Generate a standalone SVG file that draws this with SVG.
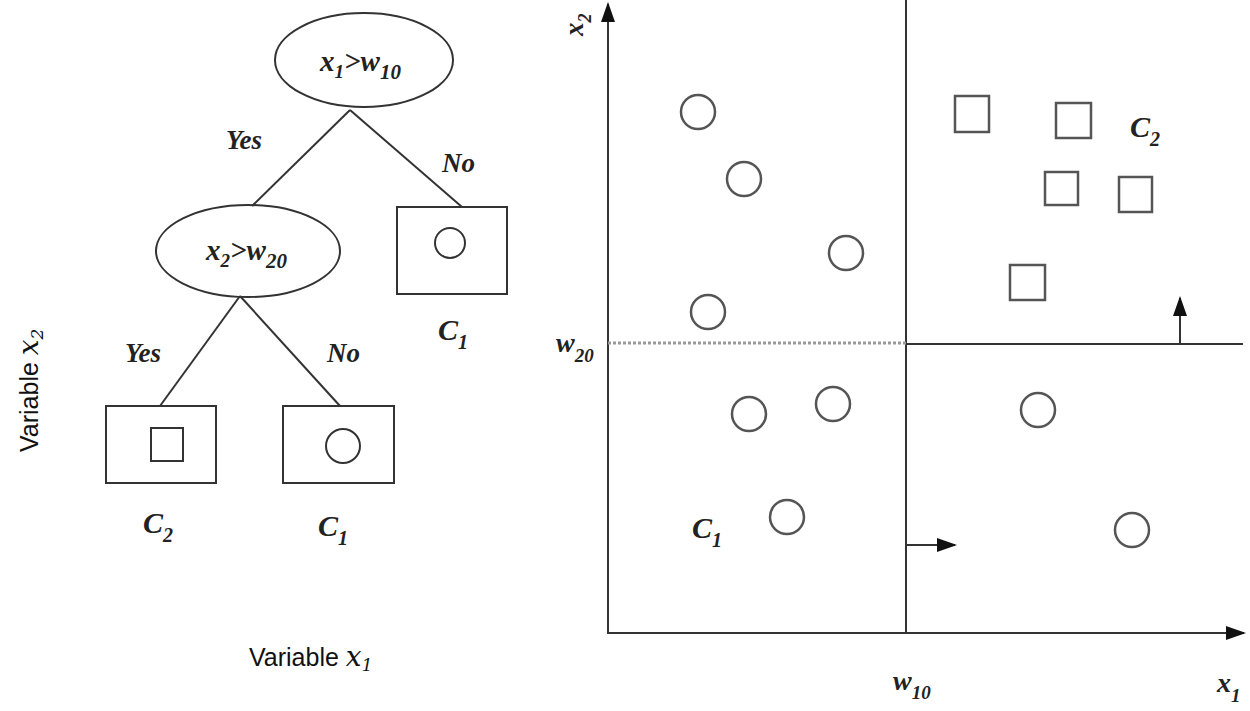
<svg xmlns="http://www.w3.org/2000/svg" width="1250" height="711" viewBox="0 0 1250 711">
<defs>
<style>
.ln{stroke:#333;stroke-width:2;fill:none}
.sh{stroke:#555;stroke-width:2.5;fill:none}
.lb{font-family:"Liberation Serif",serif;font-style:italic;font-weight:bold;fill:#222}
.sa{font-family:"Liberation Sans",Arial,sans-serif;fill:#111;font-size:25px}
.mi{font-family:"DejaVu Serif",serif;font-style:italic;fill:#111}
</style>
<marker id="ah2" viewBox="0 0 10 10" refX="9" refY="5" markerWidth="20" markerHeight="14" orient="auto" markerUnits="userSpaceOnUse" preserveAspectRatio="none">
<path d="M0,0 L10,5 L0,10 z" fill="#111"/>
</marker>
</defs>
<rect width="1250" height="711" fill="#fff"/>

<g id="connectors">
<line class="ln" x1="350" y1="110" x2="252" y2="206"/>
<line class="ln" x1="350" y1="110" x2="462" y2="207"/>
<line class="ln" x1="240" y1="296" x2="160" y2="406"/>
<line class="ln" x1="240" y1="296" x2="340" y2="406"/>
</g>

<g id="root">
<ellipse class="ln" cx="364" cy="60" rx="89" ry="47"/>
<text class="lb" x="320" y="71" font-size="29">x<tspan font-size="19" dy="7">1</tspan><tspan dy="-7">&gt;w</tspan><tspan font-size="21" dy="8">10</tspan></text>
</g>
<g id="node2">
<ellipse class="ln" cx="248" cy="251" rx="92" ry="46"/>
<text class="lb" x="206" y="260" font-size="29">x<tspan font-size="19" dy="7">2</tspan><tspan dy="-7">&gt;w</tspan><tspan font-size="21" dy="8">20</tspan></text>
</g>
<g id="leafNo1">
<rect class="ln" x="397" y="207" width="110" height="87"/>
<circle class="ln" cx="450" cy="243" r="15"/>
<text class="lb" x="438" y="340" font-size="30">C<tspan font-size="20" dy="9">1</tspan></text>
</g>
<g id="leafYes2">
<rect class="ln" x="106" y="406" width="110" height="77"/>
<rect class="ln" x="151" y="428" width="32" height="33"/>
<text class="lb" x="143" y="533" font-size="30">C<tspan font-size="20" dy="9">2</tspan></text>
</g>
<g id="leafNo2">
<rect class="ln" x="283" y="406" width="111" height="77"/>
<circle class="ln" cx="343" cy="446" r="17"/>
<text class="lb" x="318" y="536" font-size="30">C<tspan font-size="20" dy="9">1</tspan></text>
</g>
<g id="edgeLabels">
<text class="lb" x="226" y="149" font-size="27">Yes</text>
<text class="lb" x="442" y="172" font-size="27">No</text>
<text class="lb" x="125" y="362" font-size="27">Yes</text>
<text class="lb" x="327" y="362" font-size="27">No</text>
</g>
<g id="varLabels">
<text class="sa" transform="translate(38,452) rotate(-90)">Variable <tspan class="mi" font-size="28">x</tspan><tspan class="mi" font-size="17" dy="5">2</tspan></text>
<text class="sa" x="249" y="666">Variable <tspan class="mi" font-size="28">x</tspan><tspan class="mi" font-size="17" dy="5">1</tspan></text>
</g>

<g id="plot">
<line class="ln" x1="608" y1="633" x2="608" y2="4" marker-end="url(#ah2)"/>
<line class="ln" x1="607" y1="633" x2="1244" y2="633" marker-end="url(#ah2)"/>
<line class="ln" x1="906" y1="0" x2="906" y2="633"/>
<line x1="608" y1="343" x2="906" y2="343" stroke="#999" stroke-width="3" stroke-dasharray="3,2"/>
<line class="ln" x1="906" y1="344" x2="1243" y2="344"/>
<line class="ln" x1="1180" y1="344" x2="1180" y2="298" marker-end="url(#ah2)"/>
<line class="ln" x1="906" y1="545" x2="955" y2="545" marker-end="url(#ah2)"/>
<text class="lb" transform="translate(583,36) rotate(-90)" font-size="27">x<tspan font-size="18" dy="8">2</tspan></text>
<text class="lb" x="556" y="352" font-size="28">w<tspan font-size="19" dy="10">20</tspan></text>
<text class="lb" x="893" y="690" font-size="28">w<tspan font-size="19" dy="9">10</tspan></text>
<text class="lb" x="1217" y="692" font-size="28">x<tspan font-size="19" dy="10">1</tspan></text>
<text class="lb" x="1130" y="137" font-size="30">C<tspan font-size="20" dy="9">2</tspan></text>
<text class="lb" x="692" y="538" font-size="30">C<tspan font-size="20" dy="9">1</tspan></text>
</g>
<g id="points">
<circle class="sh" cx="698" cy="112" r="17"/>
<circle class="sh" cx="744" cy="179" r="17"/>
<circle class="sh" cx="846" cy="253" r="17"/>
<circle class="sh" cx="708" cy="312" r="17"/>
<circle class="sh" cx="749" cy="414" r="17"/>
<circle class="sh" cx="833" cy="404" r="17"/>
<circle class="sh" cx="787" cy="517" r="17"/>
<circle class="sh" cx="1038" cy="410" r="17"/>
<circle class="sh" cx="1132" cy="530" r="17"/>
<rect class="sh" x="955" y="96" width="34" height="36"/>
<rect class="sh" x="1056" y="103" width="35" height="35"/>
<rect class="sh" x="1045" y="172" width="33" height="33"/>
<rect class="sh" x="1119" y="177" width="33" height="35"/>
<rect class="sh" x="1010" y="265" width="35" height="35"/>
</g>
</svg>
